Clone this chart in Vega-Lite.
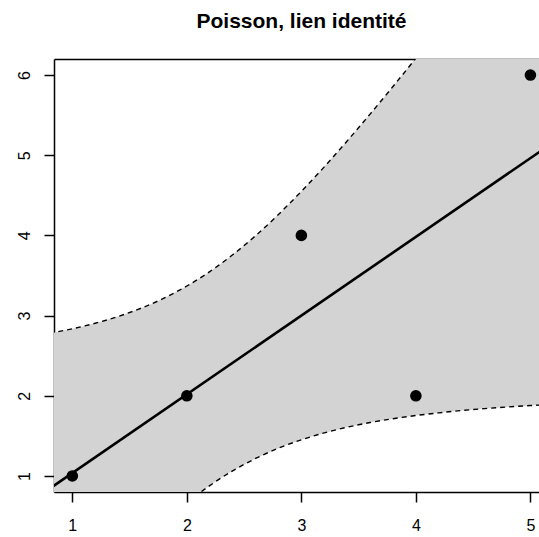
{
  "$schema": "https://vega.github.io/schema/vega-lite/v6.json",
  "width": 485,
  "height": 433,
  "autosize": "none",
  "padding": {"left": 54, "top": 59, "right": 0, "bottom": 45},
  "background": "white",
  "config": {"view": {"stroke": null}},
  "title": {
    "text": "Poisson, lien identité",
    "font": "Liberation Sans",
    "fontSize": 21,
    "fontWeight": "bold",
    "color": "black",
    "anchor": "middle",
    "dx": 5,
    "baseline": "alphabetic",
    "offset": 10
  },
  "datasets": {
    "band": [
      {"x": 0.8, "lo": -1.101, "up": 2.780},
      {"x": 1.0, "lo": -0.764, "up": 2.836},
      {"x": 1.2, "lo": -0.441, "up": 2.905},
      {"x": 1.4, "lo": -0.132, "up": 2.989},
      {"x": 1.6, "lo": 0.158, "up": 3.092},
      {"x": 1.8, "lo": 0.426, "up": 3.217},
      {"x": 2.0, "lo": 0.667, "up": 3.369},
      {"x": 2.2, "lo": 0.880, "up": 3.548},
      {"x": 2.4, "lo": 1.064, "up": 3.758},
      {"x": 2.6, "lo": 1.218, "up": 3.996},
      {"x": 2.8, "lo": 1.346, "up": 4.261},
      {"x": 3.0, "lo": 1.451, "up": 4.549},
      {"x": 3.2, "lo": 1.537, "up": 4.855},
      {"x": 3.4, "lo": 1.608, "up": 5.178},
      {"x": 3.6, "lo": 1.666, "up": 5.513},
      {"x": 3.8, "lo": 1.714, "up": 5.857},
      {"x": 4.0, "lo": 1.754, "up": 6.210},
      {"x": 4.2, "lo": 1.787, "up": 6.569},
      {"x": 4.4, "lo": 1.816, "up": 6.934},
      {"x": 4.6, "lo": 1.840, "up": 7.303},
      {"x": 4.8, "lo": 1.860, "up": 7.675},
      {"x": 5.0, "lo": 1.878, "up": 8.050},
      {"x": 5.2, "lo": 1.893, "up": 8.427}
    ],
    "fit": [
      {"x": 0.8, "y": 0.8396},
      {"x": 5.2, "y": 5.1604}
    ],
    "pts": [
      {"x": 1, "y": 1},
      {"x": 2, "y": 2},
      {"x": 3, "y": 4},
      {"x": 4, "y": 2},
      {"x": 5, "y": 6}
    ]
  },
  "resolve": {"axis": {"x": "independent"}},
  "layer": [
    {
      "data": {"name": "band"},
      "mark": {"type": "area", "color": "#d3d3d3", "clip": true, "interpolate": "monotone", "opacity": 1},
      "encoding": {
        "x": {
          "field": "x", "type": "quantitative",
          "scale": {"domain": [0.84, 5.075], "nice": false, "zero": false},
          "axis": {
            "orient": "bottom", "values": [1, 2, 3, 4, 5], "format": "d", "title": null, "grid": false,
            "domainColor": "black", "domainWidth": 1.5, "tickColor": "black", "tickWidth": 1.5, "tickSize": 10,
            "labelFont": "Liberation Sans", "labelFontSize": 16, "labelColor": "black",
            "labelBaseline": "alphabetic", "labelPadding": 28, "labelFlush": false, "labelOverlap": false
          }
        },
        "y": {
          "field": "lo", "type": "quantitative",
          "scale": {"domain": [0.8, 6.2], "nice": false, "zero": false},
          "axis": {
            "values": [1, 2, 3, 4, 5, 6], "format": "d", "title": null, "grid": false,
            "domainColor": "black", "domainWidth": 1.5, "tickColor": "black", "tickWidth": 1.5, "tickSize": 10,
            "labelFont": "Liberation Sans", "labelFontSize": 16, "labelColor": "black",
            "labelAngle": -90, "labelAlign": "center", "labelBaseline": "alphabetic", "labelPadding": 15,
            "labelFlush": false, "labelOverlap": false
          }
        },
        "y2": {"field": "up"}
      }
    },
    {
      "data": {"name": "band"},
      "mark": {"type": "line", "color": "black", "strokeWidth": 1.4, "strokeDash": [5, 4], "clip": true, "interpolate": "monotone"},
      "encoding": {
        "x": {
          "field": "x", "type": "quantitative",
          "axis": {"orient": "top", "labels": false, "ticks": false, "domain": true, "grid": false, "title": null, "domainColor": "black", "domainWidth": 1.5}
        },
        "y": {"field": "up", "type": "quantitative"}
      }
    },
    {
      "data": {"name": "band"},
      "mark": {"type": "line", "color": "black", "strokeWidth": 1.4, "strokeDash": [5, 4], "clip": true, "interpolate": "monotone"},
      "encoding": {
        "x": {"field": "x", "type": "quantitative", "axis": null},
        "y": {"field": "lo", "type": "quantitative"}
      }
    },
    {
      "data": {"name": "fit"},
      "mark": {"type": "line", "color": "black", "strokeWidth": 2.6, "clip": true},
      "encoding": {
        "x": {"field": "x", "type": "quantitative", "axis": null},
        "y": {"field": "y", "type": "quantitative"}
      }
    },
    {
      "data": {"name": "pts"},
      "mark": {"type": "circle", "color": "black", "opacity": 1, "size": 135},
      "encoding": {
        "x": {"field": "x", "type": "quantitative", "axis": null},
        "y": {"field": "y", "type": "quantitative"}
      }
    }
  ]
}
